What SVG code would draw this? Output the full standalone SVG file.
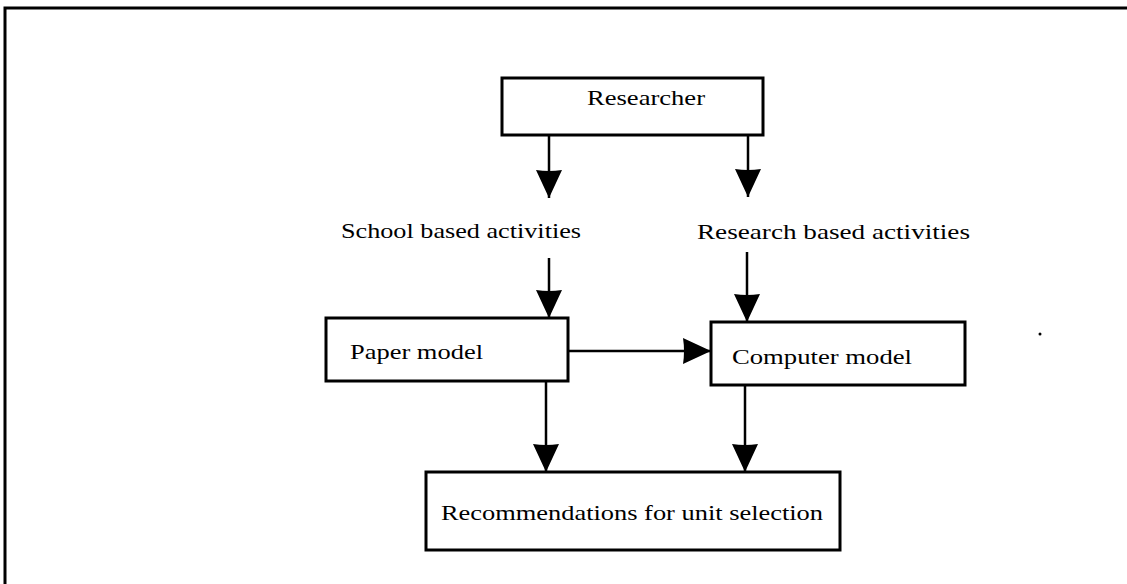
<svg xmlns="http://www.w3.org/2000/svg" width="1127" height="584" viewBox="0 0 1127 584">
<style>
.box{fill:#fff;stroke:#000;stroke-width:3}
.lbl{font-family:"Liberation Serif","Times New Roman",serif;font-size:22px;fill:#000}
.line{stroke:#000;stroke-width:2.5;fill:none}
</style>
<defs>
<marker id="ah" markerUnits="userSpaceOnUse" markerWidth="30" markerHeight="30" viewBox="0 0 30 26" refX="28" refY="13" orient="auto">
<path d="M0,0 Q2,13 0,26 L28,13 Z" fill="#000"/>
</marker>
</defs>
<rect width="1127" height="584" fill="#fff"/>
<g id="frame">
<path d="M5,584 V8 H1127" fill="none" stroke="#000" stroke-width="3"/>
<circle cx="1040" cy="334" r="1.5" fill="#000"/>
</g>
<g id="researcher">
<rect class="box" x="502" y="78" width="261" height="57"/>
<text class="lbl" x="587" y="105" textLength="118" lengthAdjust="spacingAndGlyphs">Researcher</text>
</g>
<g id="school">
<text class="lbl" x="341" y="238" textLength="240" lengthAdjust="spacingAndGlyphs">School based activities</text>
</g>
<g id="research">
<text class="lbl" x="697" y="239" textLength="273" lengthAdjust="spacingAndGlyphs">Research based activities</text>
</g>
<g id="paper">
<rect class="box" x="326" y="318" width="242" height="63"/>
<text class="lbl" x="350" y="359" textLength="133" lengthAdjust="spacingAndGlyphs">Paper model</text>
</g>
<g id="computer">
<rect class="box" x="711" y="322" width="254" height="63"/>
<text class="lbl" x="732" y="364" textLength="180" lengthAdjust="spacingAndGlyphs">Computer model</text>
</g>
<g id="recommendations">
<rect class="box" x="426" y="472" width="414" height="78"/>
<text class="lbl" x="441" y="520" textLength="382" lengthAdjust="spacingAndGlyphs">Recommendations for unit selection</text>
</g>
<g id="connectors">
<line class="line" x1="549" y1="135" x2="549" y2="198" marker-end="url(#ah)"/>
<line class="line" x1="748" y1="135" x2="748" y2="197" marker-end="url(#ah)"/>
<line class="line" x1="549" y1="258" x2="549" y2="318" marker-end="url(#ah)"/>
<line class="line" x1="747" y1="252" x2="747" y2="322" marker-end="url(#ah)"/>
<line class="line" x1="568" y1="351" x2="711" y2="351" marker-end="url(#ah)"/>
<line class="line" x1="546" y1="381" x2="546" y2="472" marker-end="url(#ah)"/>
<line class="line" x1="745" y1="385" x2="745" y2="472" marker-end="url(#ah)"/>
</g>
</svg>
